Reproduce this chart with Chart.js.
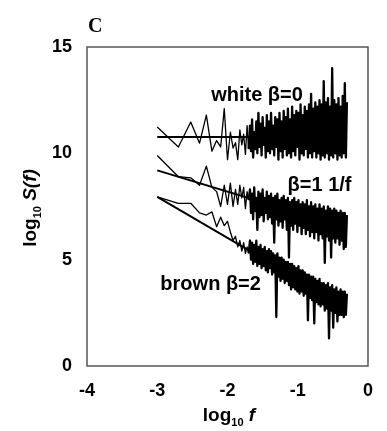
<!DOCTYPE html>
<html>
<head>
<meta charset="utf-8">
<script src="https://cdn.jsdelivr.net/npm/chart.js@4.4.1/dist/chart.umd.min.js"></script>
<style>
  body { margin: 0; background: #fff; }
  #wrap { width: 387px; height: 431px; }
</style>
</head>
<body>
<div id="wrap"><canvas id="spectra"></canvas></div>
<script>
// log10 frequency grid (k/1000 for the first points, then thinned)
const logF = [
  -3.000, -2.699, -2.523, -2.398, -2.301, -2.222, -2.155, -2.097, -2.046, -2.000,
  -1.959, -1.921, -1.886, -1.854, -1.824, -1.796, -1.770, -1.745, -1.721, -1.699,
  -1.680, -1.665, -1.650, -1.635, -1.620, -1.605, -1.590, -1.575, -1.560, -1.545,
  -1.530, -1.515, -1.500, -1.485, -1.470, -1.455, -1.440, -1.425, -1.410, -1.395,
  -1.380, -1.365, -1.350, -1.335, -1.320, -1.305, -1.290, -1.275, -1.260, -1.245,
  -1.230, -1.215, -1.200, -1.185, -1.170, -1.155, -1.140, -1.125, -1.110, -1.095,
  -1.080, -1.065, -1.050, -1.035, -1.020, -1.005, -0.990, -0.975, -0.960, -0.945,
  -0.930, -0.915, -0.900, -0.885, -0.870, -0.855, -0.840, -0.825, -0.810, -0.795,
  -0.780, -0.765, -0.750, -0.735, -0.720, -0.705, -0.690, -0.675, -0.660, -0.645,
  -0.630, -0.615, -0.600, -0.585, -0.570, -0.555, -0.540, -0.525, -0.510, -0.495,
  -0.480, -0.465, -0.450, -0.435, -0.420, -0.405, -0.390, -0.375, -0.360, -0.345,
  -0.330, -0.315, -0.300
];

// log10 S(f), white noise (beta = 0)
const whiteS = [
  11.24, 10.30, 11.47, 10.48, 11.80, 10.10, 10.60, 10.30, 12.10, 9.70,
  11.00, 10.25, 10.50, 9.70, 11.10, 10.40, 10.90, 9.95, 11.30, 10.20,
  11.3, 10.1, 11.6, 9.8, 11.0, 10.2, 11.5, 10.0, 11.9, 10.3,
  11.4, 9.9, 11.7, 10.4, 11.2, 9.8, 11.8, 10.1, 11.5, 10.0,
  11.9, 10.2, 11.3, 9.9, 11.7, 10.3, 11.6, 9.7, 11.9, 10.1,
  11.5, 9.8, 12.0, 10.2, 11.7, 9.9, 12.1, 10.0, 11.6, 9.8,
  12.2, 10.1, 11.8, 9.9, 12.0, 10.3, 11.9, 9.7, 12.3, 10.0,
  11.8, 9.9, 12.2, 10.2, 12.0, 9.8, 12.3, 10.0, 12.8, 9.8,
  12.1, 10.1, 12.4, 9.8, 12.2, 10.0, 12.5, 9.7, 12.3, 9.9,
  13.4, 9.8, 12.4, 10.0, 12.6, 9.7, 12.2, 9.9, 14.0, 9.8,
  12.5, 10.0, 12.3, 9.7, 12.6, 9.9, 12.2, 9.8, 12.7, 10.0,
  13.3, 9.8, 12.4
];

// log10 S(f), 1/f noise (beta = 1)
const pinkS = [
  9.90, 8.90, 8.85, 8.50, 9.40, 8.40, 8.20, 7.50, 8.50, 7.60,
  8.60, 7.50, 8.30, 7.60, 8.50, 7.90, 8.40, 7.40, 8.20, 7.80,
  8.3, 7.2, 8.1, 6.9, 8.4, 7.3, 7.9, 6.4, 8.2, 7.0,
  8.1, 7.1, 8.3, 6.8, 7.9, 7.2, 8.2, 6.9, 8.0, 7.0,
  8.1, 6.7, 7.9, 5.8, 8.0, 6.9, 8.1, 6.6, 7.8, 6.8,
  7.9, 6.5, 8.0, 6.9, 7.8, 6.4, 7.9, 5.1, 7.7, 6.6,
  7.8, 6.4, 7.9, 6.7, 7.7, 6.3, 7.8, 6.6, 7.6, 6.2,
  7.7, 6.5, 7.6, 6.2, 7.8, 6.4, 7.5, 6.1, 7.7, 6.3,
  7.5, 6.0, 7.6, 6.3, 7.4, 5.9, 7.6, 6.2, 7.4, 6.0,
  7.5, 4.85, 7.3, 6.1, 7.5, 5.9, 7.4, 5.1, 7.3, 6.0,
  7.4, 5.8, 7.3, 6.0, 7.2, 5.7, 7.3, 5.9, 7.2, 5.5,
  7.2, 5.6, 7.1
];

// log10 S(f), brown noise (beta = 2)
const brownS = [
  7.95, 7.65, 7.65, 7.20, 7.10, 7.25, 6.55, 7.00, 6.60, 6.80,
  6.30, 5.90, 6.10, 5.60, 5.90, 5.40, 5.80, 5.30, 5.60, 5.30,
  5.9, 5.0, 5.8, 4.8, 5.7, 4.9, 5.9, 4.7, 5.6, 4.8,
  5.7, 4.6, 5.5, 4.7, 5.6, 4.5, 5.4, 4.4, 5.5, 4.6,
  5.4, 4.3, 5.3, 4.4, 5.2, 2.3, 5.3, 4.2, 5.1, 4.0,
  5.1, 4.1, 5.0, 3.9, 4.9, 4.0, 4.9, 3.8, 4.8, 3.6,
  4.8, 3.7, 4.7, 3.6, 4.6, 3.5, 4.7, 3.4, 4.5, 3.5,
  4.5, 3.3, 4.4, 3.4, 4.3, 2.15, 4.3, 3.2, 4.2, 3.1,
  4.2, 2.0, 4.1, 3.0, 4.0, 2.9, 4.1, 2.8, 3.9, 2.9,
  3.9, 2.6, 3.8, 2.7, 3.9, 1.3, 3.7, 2.6, 3.8, 1.8,
  3.6, 2.5, 3.7, 2.1, 3.5, 2.4, 3.6, 2.4, 3.5, 2.3,
  3.5, 2.4, 3.4
];

// fitted straight lines
const fitF = [-3, -0.3];
const whiteFit = [10.77, 10.77];
const pinkFit = [9.2, 6.5];
const brownFit = [7.95, 2.75];

const xTicks = [-4, -3, -2, -1, 0];
const yTicks = [0, 5, 10, 15];

const curveLabels = [
  { text: 'white β=0', x: -1.58, y: 12.7 },
  { text: 'β=1 1/f', x: -0.69, y: 8.5 },
  { text: 'brown β=2', x: -2.24, y: 3.85 }
];

const sans = '"Liberation Sans", Arial, Helvetica, sans-serif';

function toPoints(xs, ys) {
  return xs.map((v, i) => ({ x: v, y: ys[i] }));
}

function noisy(data) {
  return {
    data, borderColor: '#000', borderWidth: 1.3, borderJoinStyle: 'round',
    pointRadius: 0, showLine: true, tension: 0,
    // the crowded high-frequency part prints as a solid band
    segment: { borderWidth: c => (c.p0.parsed.x > -1.71 ? 2.3 : 1.3) }
  };
}
function fit(data) {
  return { data, borderColor: '#000', borderWidth: 2, pointRadius: 0, showLine: true, tension: 0 };
}

// draw a row of text pieces with different fonts, centred on cx
function drawRuns(ctx, runs, cx, cy) {
  let total = 0;
  runs.forEach(r => { ctx.font = r.font; r.w = ctx.measureText(r.text).width; total += r.w; });
  let px = cx - total / 2;
  runs.forEach(r => {
    ctx.font = r.font;
    ctx.fillText(r.text, px, cy + (r.dy || 0));
    px += r.w;
  });
}

const decor = {
  id: 'decor',
  afterDatasetsDraw(chart) {
    const { ctx, chartArea: a, scales: { x, y } } = chart;
    ctx.save();
    ctx.strokeStyle = '#555';
    ctx.lineWidth = 1.5;
    ctx.strokeRect(a.left, a.top, a.right - a.left, a.bottom - a.top);

    ctx.fillStyle = '#000';
    ctx.textAlign = 'center';
    ctx.textBaseline = 'middle';
    ctx.font = 'bold 20px ' + sans;
    curveLabels.forEach(l => ctx.fillText(l.text, x.getPixelForValue(l.x), y.getPixelForValue(l.y)));

    // panel letter
    ctx.textAlign = 'left';
    ctx.textBaseline = 'alphabetic';
    ctx.font = 'bold 20px "Liberation Serif", "Times New Roman", serif';
    ctx.fillText('C', 88, 32);

    // x title
    drawRuns(ctx, [
      { text: 'log', font: 'bold 19px ' + sans },
      { text: '10', font: 'bold 11px ' + sans, dy: 5 },
      { text: ' f', font: 'italic bold 19px ' + sans }
    ], 229, 421);

    // y title
    ctx.translate(36, 208);
    ctx.rotate(-Math.PI / 2);
    drawRuns(ctx, [
      { text: 'log', font: 'bold 19px ' + sans },
      { text: '10', font: 'bold 11px ' + sans, dy: 5 },
      { text: ' S(f)', font: 'italic bold 19px ' + sans }
    ], 0, 0);
    ctx.restore();
  }
};

new Chart(document.getElementById('spectra'), {
  type: 'scatter',
  data: {
    datasets: [
      noisy(toPoints(logF, whiteS)),
      noisy(toPoints(logF, pinkS)),
      noisy(toPoints(logF, brownS)),
      fit(toPoints(fitF, whiteFit)),
      fit(toPoints(fitF, pinkFit)),
      fit(toPoints(fitF, brownFit))
    ]
  },
  options: {
    responsive: true,
    maintainAspectRatio: false,
    animation: false,
    layout: { padding: { top: 47, right: 11, left: 0, bottom: 0 } },
    plugins: { legend: { display: false }, tooltip: { enabled: false } },
    scales: {
      x: {
        type: 'linear',
        min: -4,
        max: 0,
        afterBuildTicks: s => { s.ticks = xTicks.map(v => ({ value: v })); },
        afterFit: s => { s.height = 65; },
        grid: { display: false, drawTicks: false },
        border: { display: false },
        ticks: { padding: 14, color: '#000', font: { family: sans, size: 18, weight: 'bold' } }
      },
      y: {
        type: 'linear',
        min: 0,
        max: 15,
        afterBuildTicks: s => { s.ticks = yTicks.map(v => ({ value: v })); },
        afterFit: s => { s.width = 87; },
        grid: { display: false, drawTicks: false },
        border: { display: false },
        ticks: { padding: 15, color: '#000', font: { family: sans, size: 18, weight: 'bold' } }
      }
    }
  },
  plugins: [decor]
});
</script>
</body>
</html>
